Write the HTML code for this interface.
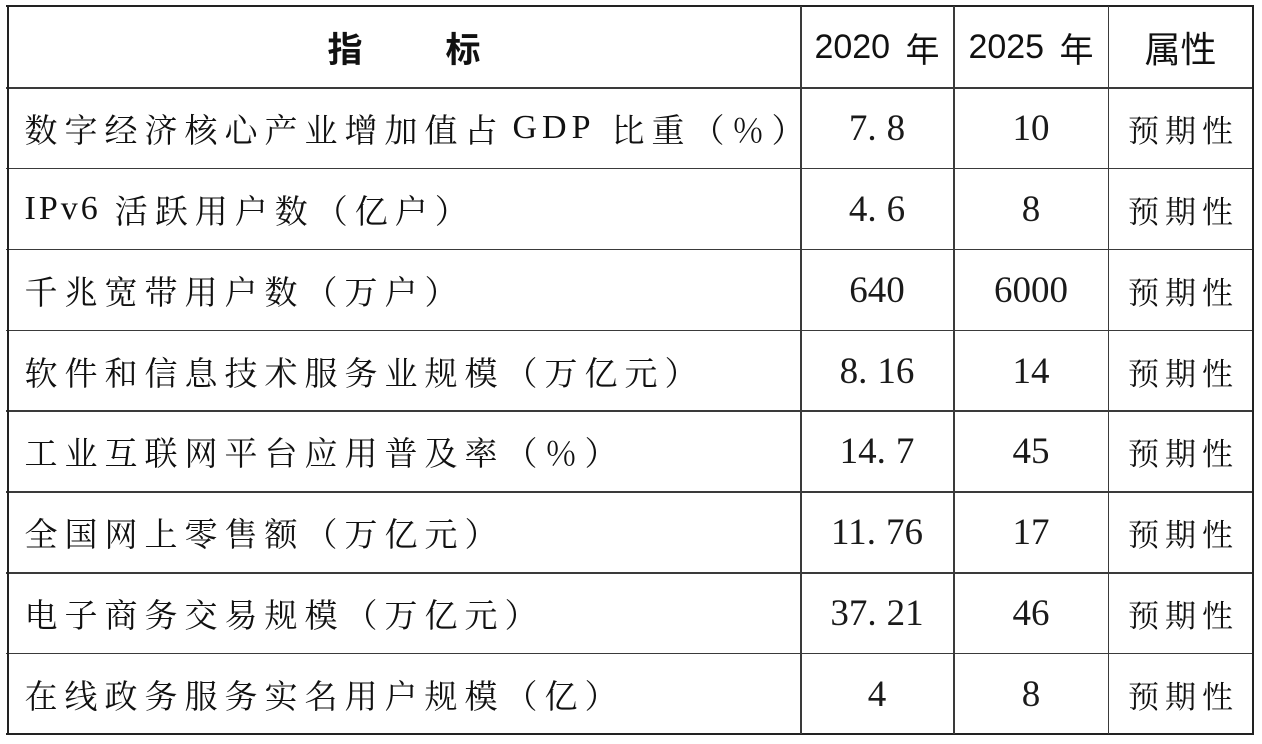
<!DOCTYPE html>
<html><head><meta charset="utf-8">
<style>
html,body{margin:0;padding:0;background:#fff;}
body{width:1262px;height:744px;position:relative;overflow:hidden;}
.h{position:absolute;left:6px;width:1248px;height:1.5px;background:#3a3a3a;}
.v{position:absolute;top:6px;height:728px;width:1.5px;background:#3a3a3a;}
.cell{position:absolute;display:flex;align-items:center;white-space:nowrap;color:#111;}
.lt{left:8.5px;width:790px;padding-left:16px;box-sizing:border-box;
 font-family:"Noto Serif CJK SC","Liberation Serif",serif;font-size:33px;letter-spacing:7px;}
.lat{font-family:"Liberation Serif",serif;font-size:34px;}
.num{justify-content:center;font-family:"Liberation Serif",serif;font-size:37px;color:#1a1a1a;}
.c1{left:801px;width:152px;}
.c2{left:954px;width:154px;}
.c3{left:1109px;width:143px;justify-content:center;font-family:"Noto Serif CJK SC",serif;font-size:31px;letter-spacing:6px;padding-left:6px;box-sizing:border-box;}
.dot{margin-right:10px;}
.hd{font-family:"Liberation Sans","Noto Sans CJK SC",sans-serif;color:#111;}
.yr{font-family:"Noto Sans CJK SC",sans-serif;font-size:34px;margin-left:6px;}
</style></head><body>

<!-- grid lines -->
<div class="h" style="top:5px;height:2px;background:#222;"></div>
<div class="h" style="top:87px"></div>
<div class="h" style="top:167.5px"></div>
<div class="h" style="top:248.5px"></div>
<div class="h" style="top:329.5px"></div>
<div class="h" style="top:410.3px"></div>
<div class="h" style="top:491.2px"></div>
<div class="h" style="top:572px"></div>
<div class="h" style="top:652.8px"></div>
<div class="h" style="top:733.3px;height:2px;background:#222;"></div>
<div class="v" style="left:6.5px;width:2px;background:#222;"></div>
<div class="v" style="left:800px"></div>
<div class="v" style="left:953px"></div>
<div class="v" style="left:1107.5px"></div>
<div class="v" style="left:1252px;width:2px;background:#222;"></div>

<!-- header -->
<div class="cell hd" style="top:7px;height:80px;left:8px;width:792px;justify-content:center;font-size:35px;font-weight:bold;">
 <span style="margin-right:83px">指</span><span>标</span>
</div>
<div class="cell hd c1" style="top:7px;height:80px;justify-content:center;font-size:34px;">2020&nbsp;<span class="yr">年</span></div>
<div class="cell hd c2" style="top:7px;height:80px;justify-content:center;font-size:34px;">2025&nbsp;<span class="yr">年</span></div>
<div class="cell hd" style="top:7px;height:80px;left:1109px;width:143px;justify-content:center;font-size:36px;font-family:'Noto Sans CJK SC',sans-serif;">属性</div>

<!-- rows -->
<div class="cell lt" style="top:88px;height:80px;">数字经济核心产业增加值占<span class="lat" style="letter-spacing:5px;margin-left:8px;margin-right:16px;">GDP</span>比重（％）</div>
<div class="cell num c1" style="top:88px;height:80px;">7<span class="dot">.</span>8</div>
<div class="cell num c2" style="top:88px;height:80px;">10</div>
<div class="cell c3" style="top:88px;height:80px;">预期性</div>

<div class="cell lt" style="top:169px;height:80px;"><span class="lat" style="letter-spacing:3px;margin-right:14px;">IPv6</span>活跃用户数（亿户）</div>
<div class="cell num c1" style="top:169px;height:80px;">4<span class="dot">.</span>6</div>
<div class="cell num c2" style="top:169px;height:80px;">8</div>
<div class="cell c3" style="top:169px;height:80px;">预期性</div>

<div class="cell lt" style="top:250px;height:80px;">千兆宽带用户数（万户）</div>
<div class="cell num c1" style="top:250px;height:80px;">640</div>
<div class="cell num c2" style="top:250px;height:80px;">6000</div>
<div class="cell c3" style="top:250px;height:80px;">预期性</div>

<div class="cell lt" style="top:331px;height:80px;">软件和信息技术服务业规模（万亿元）</div>
<div class="cell num c1" style="top:331px;height:80px;">8<span class="dot">.</span>16</div>
<div class="cell num c2" style="top:331px;height:80px;">14</div>
<div class="cell c3" style="top:331px;height:80px;">预期性</div>

<div class="cell lt" style="top:411.5px;height:80px;">工业互联网平台应用普及率（％）</div>
<div class="cell num c1" style="top:411.5px;height:80px;">14<span class="dot">.</span>7</div>
<div class="cell num c2" style="top:411.5px;height:80px;">45</div>
<div class="cell c3" style="top:411.5px;height:80px;">预期性</div>

<div class="cell lt" style="top:492.5px;height:80px;">全国网上零售额（万亿元）</div>
<div class="cell num c1" style="top:492.5px;height:80px;">11<span class="dot">.</span>76</div>
<div class="cell num c2" style="top:492.5px;height:80px;">17</div>
<div class="cell c3" style="top:492.5px;height:80px;">预期性</div>

<div class="cell lt" style="top:573.3px;height:80px;">电子商务交易规模（万亿元）</div>
<div class="cell num c1" style="top:573.3px;height:80px;">37<span class="dot">.</span>21</div>
<div class="cell num c2" style="top:573.3px;height:80px;">46</div>
<div class="cell c3" style="top:573.3px;height:80px;">预期性</div>

<div class="cell lt" style="top:654px;height:80px;">在线政务服务实名用户规模（亿）</div>
<div class="cell num c1" style="top:654px;height:80px;">4</div>
<div class="cell num c2" style="top:654px;height:80px;">8</div>
<div class="cell c3" style="top:654px;height:80px;">预期性</div>

</body></html>
